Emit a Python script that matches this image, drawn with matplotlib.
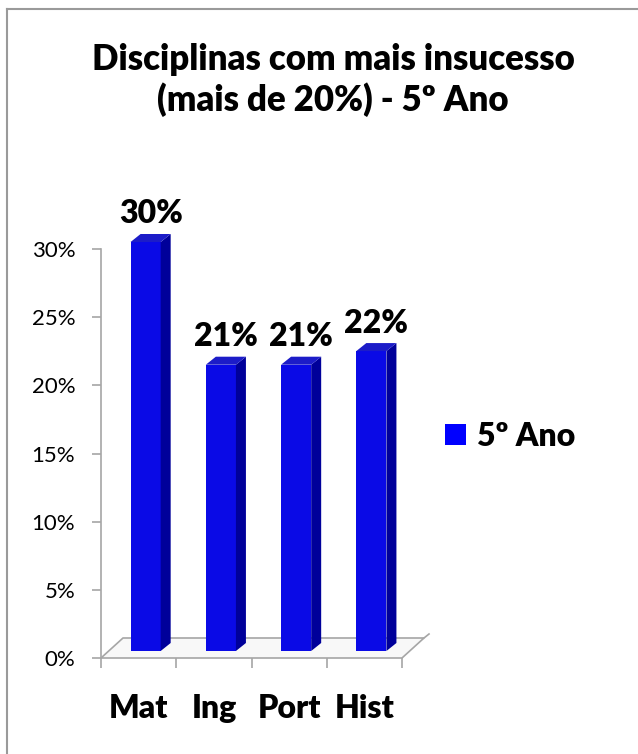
import matplotlib
matplotlib.use('Agg')
import matplotlib.pyplot as plt
from matplotlib.patches import Polygon, Patch
from matplotlib.lines import Line2D

# ---- data ----
categories = ['Mat', 'Ing', 'Port', 'Hist']
values = [0.30, 0.21, 0.21, 0.22]
value_labels = ['30%', '21%', '21%', '22%']
yticks = [0.0, 0.05, 0.10, 0.15, 0.20, 0.25, 0.30]
ytick_labels = ['0%', '5%', '10%', '15%', '20%', '25%', '30%']
series_name = '5º Ano'
title = 'Disciplinas com mais insucesso\n(mais de 20%) - 5º Ano'

FONT = ['Lato', 'DejaVu Sans']
plt.rcParams['font.family'] = FONT

W, H = 638, 754
fig = plt.figure(figsize=(W / 100, H / 100), dpi=100)
fig.patch.set_facecolor('white')

# axes: x 0..4 -> px 101..402 ; y 0..0.30 -> px 658..249
ax = fig.add_axes([101 / W, (H - 658) / H, 301 / W, 409 / H])
ax.set_xlim(0, len(categories))
ax.set_ylim(0, 0.30)

pxx = 301 / len(categories)
pxy = 409 / 0.30

# floor (3D base)
fdx, fdy = 22 / pxx, 20 / pxy
n = len(categories)
floor = Polygon([(0, 0), (n, 0), (n + fdx, fdy), (fdx, fdy)], closed=True,
                facecolor='#f8f8f8', edgecolor='#a6a6a6', lw=1.2, clip_on=False, zorder=1)
ax.add_patch(floor)
ax.plot([n + fdx, n + fdx + 5 / pxx], [fdy, fdy + 4 / pxy], color='#a6a6a6', lw=1.2,
        clip_on=False, zorder=1)

# bars (front faces)
w = 0.40
ox = 7 / pxx
oy = 7 / pxy
bdx, bdy = 10 / pxx, 8 / pxy
centers = [i + 0.5 + ox for i in range(n)]
bars = ax.bar(centers, values, width=w, bottom=oy, color='#0a0ae6', edgecolor='none',
              zorder=3, clip_on=False)
for b, v, lab in zip(bars, values, value_labels):
    x0 = b.get_x()
    x1 = x0 + b.get_width()
    top = oy + v
    side = Polygon([(x1, oy), (x1 + bdx, oy + bdy), (x1 + bdx, top + bdy), (x1, top)],
                   closed=True, facecolor='#00009a', edgecolor='none', zorder=3, clip_on=False)
    topf = Polygon([(x0, top), (x0 + bdx, top + bdy), (x1 + bdx, top + bdy), (x1, top)],
                   closed=True, facecolor='#1c1cc8', edgecolor='none', zorder=3, clip_on=False)
    ax.add_patch(side)
    ax.add_patch(topf)
    ax.annotate(lab, ((x0 + x1 + bdx) / 2, top + bdy), xytext=(0, 4),
                textcoords='offset points', ha='center', va='bottom',
                fontsize=23, fontweight='heavy', color='black', zorder=5,
                annotation_clip=False)

# spines / ticks
for s in ['top', 'right', 'bottom']:
    ax.spines[s].set_visible(False)
ax.spines['left'].set_color('#a6a6a6')
ax.spines['left'].set_linewidth(1.2)
ax.set_yticks(yticks)
ax.set_yticklabels(ytick_labels)
ax.tick_params(axis='y', direction='out', length=6.5, width=1.2, color='#a6a6a6',
               labelsize=16, pad=12, labelcolor='black')

ax.set_xticks(range(n + 1))
ax.set_xticklabels([''] * (n + 1))
ax.tick_params(axis='x', which='major', direction='out', length=7, width=1.2, color='#a6a6a6')
ax.set_xticks([i + 0.5 for i in range(n)], minor=True)
ax.set_xticklabels(categories, minor=True)
ax.tick_params(axis='x', which='minor', length=0, pad=26, labelsize=23)
for t in ax.get_xticklabels(minor=True):
    t.set_fontweight('heavy')
ax.patch.set_alpha(0)

# title
fig.text(333 / W, 1 - 80 / H, title, ha='center', va='center', fontsize=25,
         fontweight='heavy', linespacing=1.25)

# legend
handle = Patch(facecolor='#0000ff', edgecolor='none', label=series_name)
fig.legend(handles=[handle], loc='center left', bbox_to_anchor=(445 / W, 1 - 436 / H),
           frameon=False, prop={'weight': 'heavy', 'size': 23}, handlelength=0.65,
           handleheight=0.65, handletextpad=0.35, borderpad=0, borderaxespad=0)

# outer frame (top and left edges visible)
fig.add_artist(Line2D([7 / W, 1], [1 - 9 / H, 1 - 9 / H], transform=fig.transFigure,
                      color='#9a9a9a', lw=1.5))
fig.add_artist(Line2D([7 / W, 7 / W], [0, 1 - 9 / H], transform=fig.transFigure,
                      color='#9a9a9a', lw=1.5))

fig.savefig('out.png', dpi=100, facecolor='white')
